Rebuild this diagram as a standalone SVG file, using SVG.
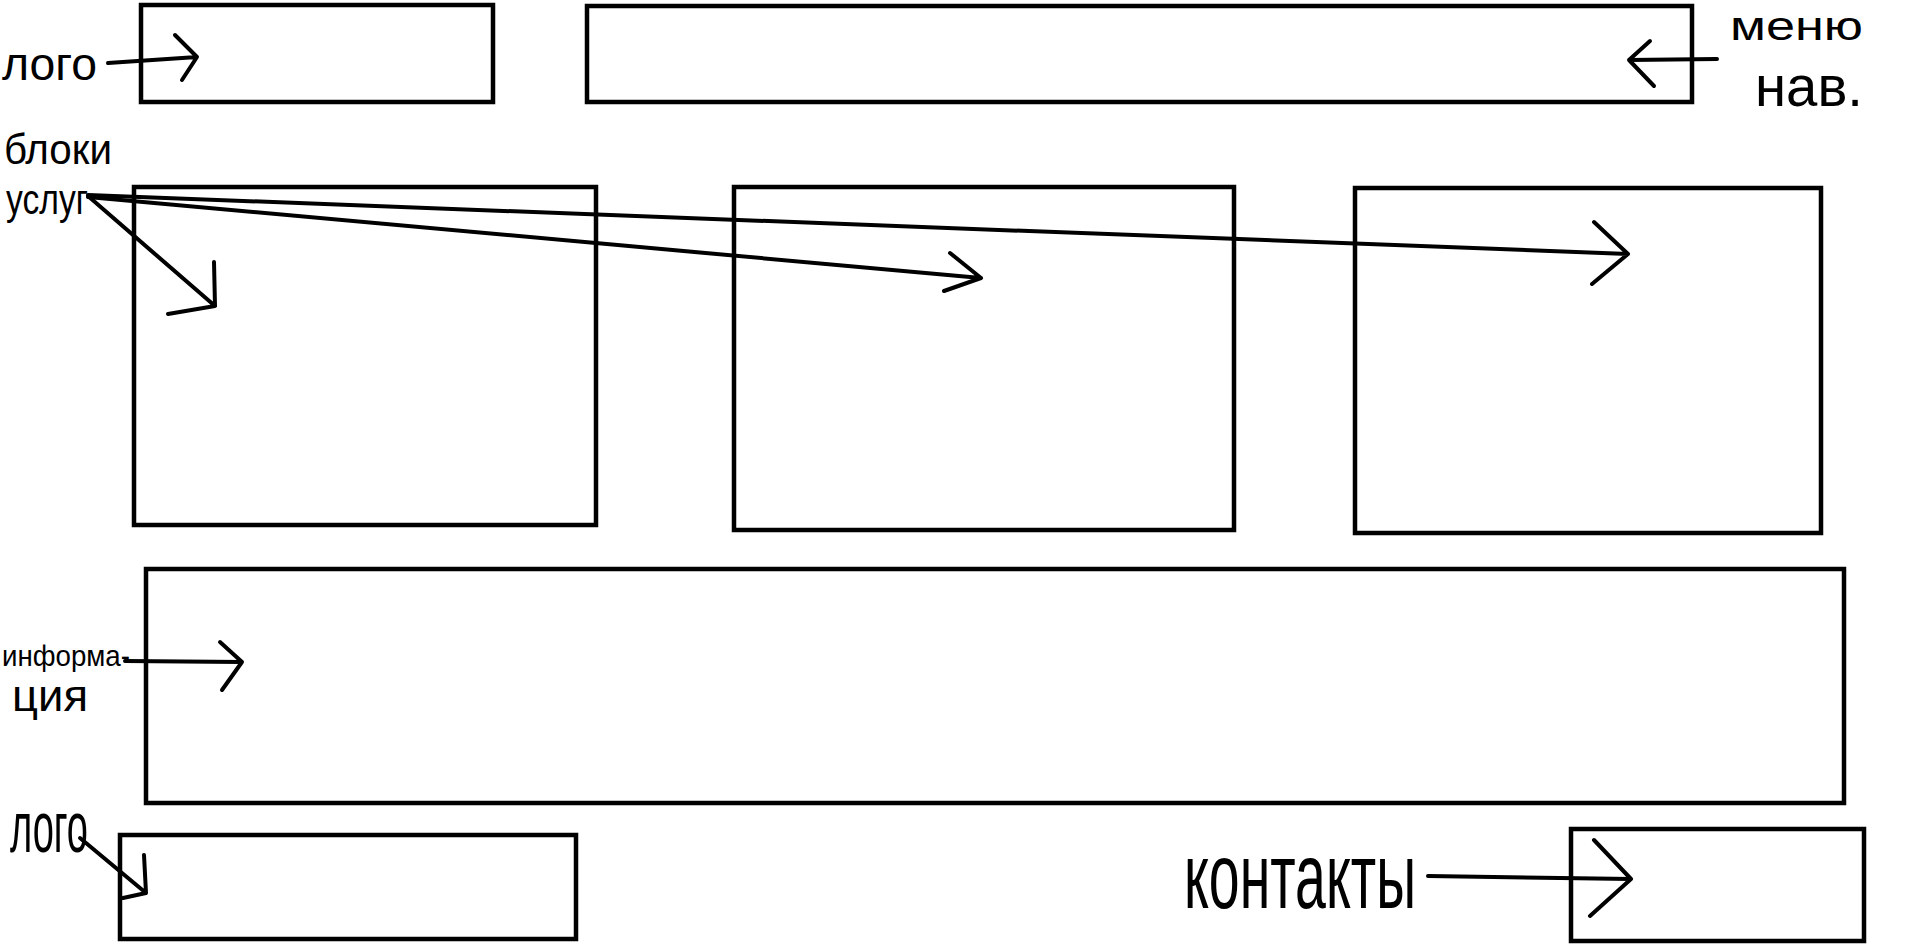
<svg xmlns="http://www.w3.org/2000/svg" width="1914" height="944" viewBox="0 0 1914 944">
<style>
.box{fill:none;stroke:#000;stroke-width:4.5}
.c{fill:none;stroke:#000;stroke-width:4;stroke-linecap:round;stroke-linejoin:round}
.t{font-family:"Liberation Sans",Arial,sans-serif;fill:#000}
</style>
<rect width="1914" height="944" fill="#fff"/>
<g id="logo-top"><rect class="box" x="141" y="5" width="352" height="97"/></g>
<g id="nav-menu"><rect class="box" x="587" y="6" width="1105" height="96"/></g>
<g id="service-1"><rect class="box" x="134" y="187" width="462" height="338"/></g>
<g id="service-2"><rect class="box" x="734" y="187" width="500" height="343"/></g>
<g id="service-3"><rect class="box" x="1355" y="188" width="466" height="345"/></g>
<g id="info"><rect class="box" x="146" y="569" width="1698" height="234"/></g>
<g id="logo-bottom"><rect class="box" x="120" y="835" width="456" height="104"/></g>
<g id="contacts"><rect class="box" x="1571" y="829" width="293" height="112"/></g>
<g id="labels">
<text class="t" x="2" y="80" font-size="46" textLength="95" lengthAdjust="spacingAndGlyphs">лого</text>
<text class="t" x="1730" y="40" font-size="40" textLength="133" lengthAdjust="spacingAndGlyphs">меню</text>
<text class="t" x="1755" y="106" font-size="58" textLength="108" lengthAdjust="spacingAndGlyphs">нав.</text>
<text class="t" x="4" y="164" font-size="42" textLength="108" lengthAdjust="spacingAndGlyphs">блоки</text>
<text class="t" x="6" y="214" font-size="42" textLength="82" lengthAdjust="spacingAndGlyphs">услуг</text>
<text class="t" x="2" y="666" font-size="30" textLength="128" lengthAdjust="spacingAndGlyphs">информа-</text>
<text class="t" x="12" y="711" font-size="44" textLength="76" lengthAdjust="spacingAndGlyphs">ция</text>
<text class="t" x="10" y="852" font-size="72" textLength="78" lengthAdjust="spacingAndGlyphs">лого</text>
<text class="t" x="1184" y="908" font-size="92" textLength="232" lengthAdjust="spacingAndGlyphs">контакты</text>
</g>
<g id="connectors">
<path class="c" d="M108 63 L197 57 M175 35 L197 57 L182 80"/>
<path class="c" d="M1717 59 L1629 60 M1650 41 L1629 60 L1654 86"/>
<path class="c" d="M88 196 L215 306 M214 262 L215 306 L168 314"/>
<path class="c" d="M88 197 L981 278 M950 253 L981 278 L944 291"/>
<path class="c" d="M88 195 L1628 254 M1594 222 L1628 254 L1592 284"/>
<path class="c" d="M125 661 L242 662 M220 642 L242 662 L222 690"/>
<path class="c" d="M80 838 L146 893 M144 855 L146 893 L123 898"/>
<path class="c" d="M1428 876 L1631 879 M1594 840 L1631 879 L1590 916"/>
</g>
</svg>
